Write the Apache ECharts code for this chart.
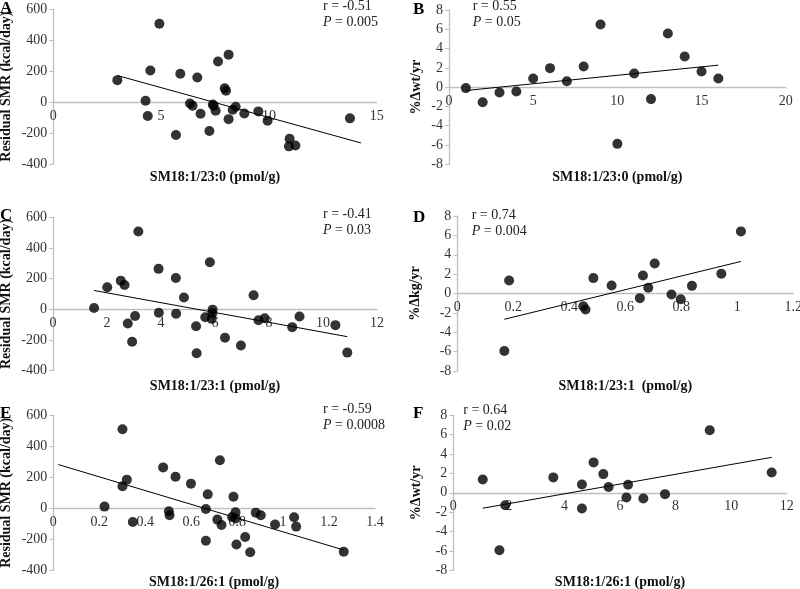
<!DOCTYPE html>
<html>
<head>
<meta charset="utf-8">
<script src="https://cdn.jsdelivr.net/npm/echarts@6/dist/echarts.min.js"></script>
<style>html,body{margin:0;padding:0;background:#fff}#c{width:800px;height:589px}</style>
</head>
<body>
<div id="c"></div>
<script>
// Panel A: SM18:1/23:0 vs Residual SMR
var aX = [2.97,4.92,4.50,4.28,4.38,5.89,5.69,6.68,6.34,6.46,6.83,7.24,7.44,7.53,7.64,7.95,8.01,8.13,8.13,8.32,8.46,8.86,9.51,9.94,10.96,10.93,11.23,13.76,7.40];
var aY = [142,507,204,9,-90,183,-213,159,-9,-24,-75,-187,-24,-56,262,90,73,307,-110,-49,-30,-73,-60,-120,-237,-286,-280,-105,-15];
var aTrendX = [2.97, 14.27];
var aTrendY = [172, -264];
// Panel B: SM18:1/23:0 vs %Δwt/yr
var bX = [1,2,3,4,5,6,7,8,9,10,11,12,13,14,15,16];
var bY = [-0.1,-1.56,-0.55,-0.45,0.9,1.97,0.62,2.14,6.5,-5.88,1.42,-1.24,5.57,3.18,1.62,0.9];
var bTrendX = [1, 16];
var bTrendY = [-0.35, 2.28];
// Panel C: SM18:1/23:1 vs Residual SMR
var cX = [1.52,2.01,2.51,2.65,2.77,2.93,3.04,3.16,3.91,3.92,4.55,4.56,4.85,5.30,5.32,5.64,5.81,5.88,5.91,5.90,6.37,6.96,7.43,7.61,7.84,8.86,9.13,10.46,10.90];
var cY = [9,144,187,159,-92,-211,-43,508,264,-22,204,-28,77,-110,-286,-52,307,-62,-2,-25,-185,-236,92,-71,-58,-116,-47,-103,-282];
var cTrendX = [1.52, 10.90];
var cTrendY = [123, -178];
// Panel D: SM18:1/23:1 vs %Δkg/yr
var dX = [0.168,0.185,0.45,0.458,0.486,0.551,0.652,0.663,0.682,0.705,0.765,0.798,0.838,0.943,1.013];
var dY = [-5.93,1.34,-1.31,-1.66,1.59,0.83,-0.48,1.86,0.59,3.1,-0.1,-0.59,0.79,2.03,6.41];
var dTrendX = [0.168, 1.013];
var dTrendY = [-2.66, 3.31];
// Panel E: SM18:1/26:1 vs Residual SMR
var eX = [0.223,0.301,0.301,0.320,0.346,0.478,0.503,0.506,0.532,0.599,0.664,0.664,0.672,0.714,0.725,0.732,0.778,0.784,0.793,0.794,0.797,0.835,0.857,0.881,0.903,0.965,1.048,1.057,1.264];
var eY = [11,510,142,185,-88,264,-19,-45,204,159,-4,-209,90,-73,310,-108,-56,75,-26,-65,-234,-185,-284,-28,-45,-105,-58,-118,-280];
var eTrendX = [0.022, 1.264];
var eTrendY = [282, -269];
// Panel F: SM18:1/26:1 vs %Δwt/yr
var fX = [1.06,1.66,1.87,3.60,4.63,4.63,5.05,5.40,5.59,6.23,6.29,6.84,7.62,9.23,11.46];
var fY = [1.38,-5.93,-1.28,1.59,0.86,-1.62,3.14,1.93,0.59,-0.48,0.83,-0.59,-0.14,6.45,2.10];
var fTrendX = [1.06, 11.46];
var fTrendY = [-1.59, 3.66];

var panelLetters = ['A','B','C','D','E','F'];
var rTexts = ['r = -0.51','r = 0.55','r = -0.41','r = 0.74','r = -0.59','r = 0.64'];
var pTexts = ['0.005','0.05','0.03','0.004','0.0008','0.02'];
var xNames = ['SM18:1/23:0 (pmol/g)','SM18:1/23:0 (pmol/g)','SM18:1/23:1 (pmol/g)','SM18:1/23:1  (pmol/g)','SM18:1/26:1 (pmol/g)','SM18:1/26:1 (pmol/g)'];
var yNames = ['Residual SMR (kcal/day)','%\u0394wt/yr','Residual SMR (kcal/day)','%\u0394kg/yr','Residual SMR (kcal/day)','%\u0394wt/yr'];
var xMax = [15, 20, 12, 1.2, 1.4, 12];
var xInterval = [5, 5, 2, 0.2, 0.2, 2];
var yMin = [-400, -8, -400, -8, -400, -8];
var yMax = [600, 8, 600, 8, 600, 8];
var yInterval = [200, 2, 200, 2, 200, 2];

var allX = [aX,bX,cX,dX,eX,fX];
var allY = [aY,bY,cY,dY,eY,fY];
var trendX = [aTrendX,bTrendX,cTrendX,dTrendX,eTrendX,fTrendX];
var trendY = [aTrendY,bTrendY,cTrendY,dTrendY,eTrendY,fTrendY];

var FONT = '"Liberation Serif","Times New Roman",serif';
var grids = [
  {left:53.3, top:9.3, width:323.4, height:154.7},
  {left:449, top:10, width:336.7, height:154.3},
  {left:53, top:217.3, width:324, height:153.4},
  {left:457.3, top:216, width:336, height:155},
  {left:53.3, top:415.3, width:321.7, height:155},
  {left:453.3, top:415.3, width:333.4, height:155}
];
var yNameGap = [40, 26, 40, 35, 40, 30];
var xNameGap = [68, 83, 70, 86, 67, 83];
var letterPos = [[0,0],[413,1],[0,207],[413,209],[0,405],[413,405]];
var rPos = [[323,-2],[472.7,-2],[323,206],[471.7,207],[323,401],[463.3,402]];

var option = {
  backgroundColor:'#fff',
  animation:false,
  grid:[], xAxis:[], yAxis:[], series:[], title:[]
};
for (var i=0;i<6;i++){
  var g = grids[i];
  // x axis crosses the y axis at value 0: shift it up from the grid bottom by the scale fraction of 0
  var zeroShift = -g.height * (0 - yMin[i]) / (yMax[i] - yMin[i]);
  option.grid.push({left:g.left, top:g.top, width:g.width, height:g.height, outerBoundsMode:'none', containLabel:false});
  option.xAxis.push({
    gridIndex:i, type:'value', min:0, max:xMax[i], interval:xInterval[i],
    position:'bottom', offset:zeroShift,
    axisLine:{onZero:false, lineStyle:{color:'#c0c0c0', width:1.3}},
    axisTick:{show:false}, splitLine:{show:false},
    axisLabel:{color:'#333', fontFamily:FONT, fontSize:14, margin:7, showMaxLabel:true, showMinLabel:true},
    name:xNames[i], nameLocation:'middle', nameGap:xNameGap[i],
    nameTextStyle:{color:'#111', fontFamily:FONT, fontSize:14, fontWeight:'bold'}
  });
  option.yAxis.push({
    gridIndex:i, type:'value', min:yMin[i], max:yMax[i], interval:yInterval[i],
    axisLine:{show:true, onZero:false, lineStyle:{color:'#c0c0c0', width:1.3}},
    axisTick:{show:true, length:4, lineStyle:{color:'#c0c0c0'}}, splitLine:{show:false},
    axisLabel:{color:'#333', fontFamily:FONT, fontSize:14, margin:6},
    name:yNames[i], nameLocation:'middle', nameGap:yNameGap[i],
    nameTextStyle:{color:'#111', fontFamily:FONT, fontSize:14, fontWeight:'bold'}
  });
  var pts = [];
  for (var k=0;k<allX[i].length;k++) pts.push([allX[i][k], allY[i][k]]);
  option.series.push({
    type:'scatter', xAxisIndex:i, yAxisIndex:i, data:pts, symbolSize:10,
    itemStyle:{color:'#000'}, silent:true, z:3
  });
  var tl = [];
  for (var k=0;k<trendX[i].length;k++) tl.push([trendX[i][k], trendY[i][k]]);
  option.series.push({
    type:'line', xAxisIndex:i, yAxisIndex:i, data:tl, symbol:'none',
    lineStyle:{color:'#000', width:1}, silent:true, z:2
  });
  option.title.push({
    text:panelLetters[i], left:letterPos[i][0], top:letterPos[i][1], padding:0,
    textStyle:{color:'#000', fontFamily:FONT, fontSize:17, fontWeight:'bold'}
  });
  option.title.push({
    text:'{n|' + rTexts[i] + '}\n{i|P}{n| = ' + pTexts[i] + '}',
    left:rPos[i][0], top:rPos[i][1], padding:0,
    textStyle:{
      color:'#222', fontFamily:FONT, fontSize:14, fontWeight:'normal', lineHeight:16,
      rich:{
        n:{fontFamily:FONT, fontSize:14, color:'#222', lineHeight:16},
        i:{fontFamily:FONT, fontSize:14, color:'#222', fontStyle:'italic', lineHeight:16}
      }
    }
  });
}
var chart = echarts.init(document.getElementById('c'), null, {renderer:'canvas'});
chart.setOption(option);
</script>
</body>
</html>
